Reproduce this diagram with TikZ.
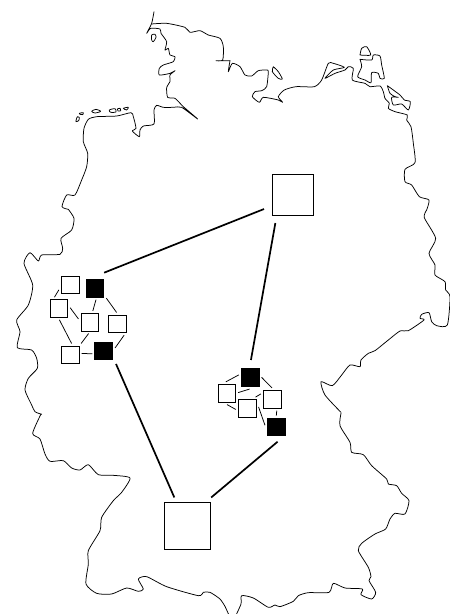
\documentclass[tikz,border=0pt]{standalone}
\tikzset{
  zoomed/.style 2 args={x=0.33333pt,y=-0.33333pt,xshift=#1pt,yshift=-#2pt},
  coast/.style={black, line width=0.75pt, line join=round, line cap=round},
  smallbox/.style={draw=black, fill=white, line width=0.9pt, minimum size=17.7pt, inner sep=0pt, outer sep=2.5pt},
  blackbox/.style={smallbox, fill=black},
  hubbox/.style={draw=black, fill=white, line width=0.9pt, minimum size=#1, inner sep=0pt, outer sep=5pt},
  netlink/.style={black, line width=0.75pt},
  hublink/.style={black, line width=1.7pt}
}
\begin{document}
\begin{tikzpicture}[x=1pt,y=-1pt]
    \useasboundingbox (0,0) rectangle (450,614);

    % north-west coast and west border
    \begin{scope}[zoomed={0}{0}]
        \draw[coast] plot[smooth,tension=0.4] coordinates {(462,35) (455,70) (440,100) (452,85) (480,87) (483,100) (500,125) (495,150) (505,145) (510,165) (525,170) (520,185) (490,195) (478,205) (478,225) (510,220) (525,212) (510,225) (510,245) (500,262) (503,292) (525,295) (550,320) (593,357) (545,322) (520,322) (490,322) (470,316) (462,330) (462,372) (430,378) (420,390) (418,410) (397,393) (408,385) (400,350) (393,338) (350,348) (290,350) (265,358) (252,385) (250,425) (263,460) (260,500) (245,540) (225,585) (200,585) (186,620) (205,628)};
        \draw[coast] plot[smooth,tension=0.4] coordinates {(455,72) (500,70) (555,82) (570,97) (600,92) (625,105) (660,115) (670,140) (668,180) (648,182) (690,182)};
        \draw[coast] plot[smooth cycle] coordinates {(455,105) (465,103) (468,112) (460,125) (455,120)};
        \draw[coast] plot[smooth cycle] coordinates {(228,362) (232,350) (238,352) (236,362) (228,365)};
        \draw[coast] plot[smooth cycle] coordinates {(238,340) (250,338) (248,344) (240,343)};
        \draw[coast] plot[smooth cycle] coordinates {(275,334) (288,328) (302,334) (285,339)};
        \draw[coast] plot[smooth cycle] coordinates {(328,330) (345,326) (348,336) (332,337)};
        \draw[coast] plot[smooth cycle] coordinates {(352,327) (360,325) (362,332) (354,333)};
        \draw[coast] plot[smooth cycle] coordinates {(370,325) (385,322) (380,330)};
    \end{scope}

    % baltic coast
    \begin{scope}[zoomed={225}{0}]
        \draw[coast] plot[smooth,tension=0.4] coordinates {(15,182) (10,215) (22,190) (45,200) (60,225) (80,228) (100,212) (125,210) (130,215) (125,260) (110,272) (90,275) (82,290) (103,307) (115,292) (160,300) (173,307) (160,290) (178,270) (213,260) (268,260) (290,240) (310,190) (325,190) (358,202) (325,210) (300,235) (330,220) (360,210) (370,200) (385,205) (382,240) (420,250) (435,260) (465,258) (475,275) (480,295) (493,310) (490,325) (510,335) (547,345) (545,360) (558,380) (565,430) (570,488) (540,508) (540,545) (560,555) (583,590) (612,600) (605,630)};
        \draw[coast] plot[smooth,tension=0.4] coordinates {(145,200) (142,215) (160,235) (172,237) (160,215) (145,200)};
        \draw[coast] plot[smooth,tension=0.4] coordinates {(405,165) (410,145) (425,140) (437,165) (405,165)};
        \draw[coast] plot[smooth,tension=0.4] coordinates {(405,178) (440,180) (445,165) (465,168) (470,195) (478,235) (465,235) (460,220) (440,218) (438,248) (420,240) (398,230) (410,200) (405,178)};
        \draw[coast] plot[smooth,tension=0.4] coordinates {(487,257) (495,280) (510,290) (520,292) (500,292) (505,315) (530,312) (550,330) (556,305) (538,300) (525,285) (487,257)};
    \end{scope}

    % east border
    \begin{scope}[zoomed={225}{205}]
        \draw[coast] plot[smooth,tension=0.4] coordinates {(605,15) (598,38) (632,100) (612,145) (630,180) (630,210) (660,230) (662,255) (675,275) (667,360) (635,362) (620,350) (612,323) (590,328) (585,340) (597,345) (550,377) (525,378) (490,405) (450,437) (430,445) (408,465) (405,485) (375,480) (350,510) (322,542) (288,530) (300,570) (348,622)};
    \end{scope}

    % south-east border
    \begin{scope}[zoomed={225}{404}]
        \draw[coast] plot[smooth,tension=0.4] coordinates {(348,28) (345,65) (375,115) (380,145) (415,152) (440,185) (485,225) (490,240) (515,245) (530,268) (552,290) (540,330) (510,328) (495,345) (482,375) (450,390) (410,418) (400,440) (430,490) (438,518) (432,530) (452,565) (440,585) (408,572) (412,555) (360,552) (325,538) (312,565) (250,566) (220,575) (205,592) (165,608) (150,603) (130,610) (85,582) (50,575) (48,600) (30,640)};
        \draw[coast] plot[smooth,tension=0.4] coordinates {(0,607) (15,640)};
    \end{scope}

    % south-west border
    \begin{scope}[zoomed={0}{404}]
        \draw[coast] plot[smooth,tension=0.4] coordinates {(675,607) (660,585) (630,565) (610,565) (595,575) (500,548) (440,518) (415,525) (430,555) (415,562) (380,552) (335,570) (290,568) (258,540) (265,480) (265,440) (300,380) (305,340) (340,290) (365,265) (390,222) (340,214) (295,212) (265,182) (240,198) (215,192) (190,170) (150,172) (135,150) (120,105) (98,88) (123,30)};
    \end{scope}
    \begin{scope}[zoomed={0}{205}]
        \draw[coast] plot[smooth,tension=0.4] coordinates {(125,628) (105,620) (95,600) (75,555) (85,520) (112,490) (110,460) (95,435) (52,428) (60,380) (50,345) (85,300) (98,240) (72,175) (90,143) (115,168) (125,150) (180,148) (188,130) (183,100) (215,75) (222,40) (205,13)};
    \end{scope}

    \node[hubbox=41pt, outer sep=8pt] (hubN) at (292.5,194.5) {};
    \node[hubbox=46.5pt] (hubS) at (187.5,525.7) {};

    % west group
    \node[smallbox] (wa) at (70.2,284.8) {};
    \node[blackbox] (wb) at (95,288.3) {};
    \node[smallbox] (wc) at (58.8,308.5) {};
    \node[smallbox] (wd) at (89.8,322.2) {};
    \node[smallbox] (we) at (117.6,323.8) {};
    \node[smallbox] (wf) at (70.2,354.8) {};
    \node[blackbox] (wg) at (103.7,350.8) {};

    % east group
    \node[blackbox] (ea) at (250.2,377.7) {};
    \node[smallbox] (eb) at (226.8,393.2) {};
    \node[smallbox] (ec) at (272.2,399.2) {};
    \node[smallbox] (ed) at (247.2,408.5) {};
    \node[blackbox] (ee) at (276.3,427) {};

    \draw[netlink] (wa.204) -- (wc.111);
    \draw[netlink] (wb.275) -- (wd.75);
    \draw[netlink] (wb.319) -- (we.95);
    \draw[netlink] (wc.4) -- (wd.164);
    \draw[netlink] (wc.273) -- (wf.83);
    \draw[netlink] (wd.264) -- (wf.46);
    \draw[netlink] (wf.6) -- (wg.194);
    \draw[netlink] (we.300) -- (wg.14);

    \draw[netlink] (ea.166) -- (eb.95);
    \draw[netlink] (ea.267) -- (eb.3);
    \draw[netlink] (ea.2) -- (ec.91);
    \draw[netlink] (ec.155) -- (ed.54);
    \draw[netlink] (eb.271) -- (ed.185);
    \draw[netlink] (ec.292) -- (ee.90);
    \draw[netlink] (ed.8) -- (ee.171);

    \draw[hublink, shorten >=11.5pt] (hubN.207) -- (wb.98);
    \draw[hublink, shorten >=6.5pt] (hubN.239) -- (ea.92);
    \draw[hublink, shorten >=2.4pt] (hubS.115) -- (wg.316);
    \draw[hublink, shorten >=5.2pt] (hubS.50) -- (ee.295);
\end{tikzpicture}
\end{document}
